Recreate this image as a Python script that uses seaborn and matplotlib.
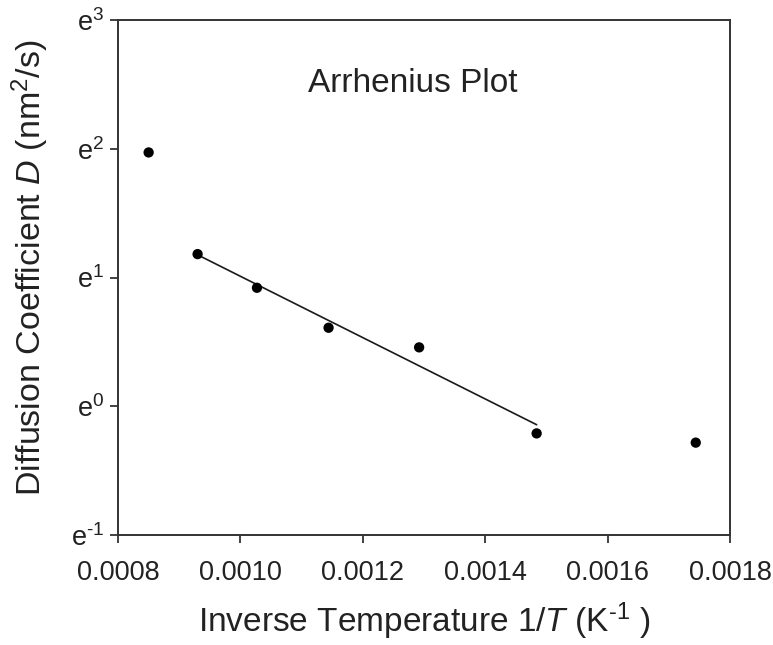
import numpy as np
import pandas as pd
import matplotlib
matplotlib.use("Agg")
import matplotlib.pyplot as plt
from matplotlib.ticker import FixedLocator, FuncFormatter
import seaborn as sns

# Inverse temperature (1/K) and diffusion coefficient (nm^2/s)
inv_temp = [0.00085, 0.00093, 0.001027, 0.001144, 0.001292, 0.001484, 0.001744]
diff_coef = [7.18, 3.26, 2.51, 1.84, 1.58, 0.81, 0.754]
# indices of the points used for the Arrhenius fit
fit_idx = [1, 2, 3, 4, 5]

x_ticks = [0.0008, 0.0010, 0.0012, 0.0014, 0.0016, 0.0018]
y_exponents = [-1, 0, 1, 2, 3]

df = pd.DataFrame({"inv_T": inv_temp, "D": diff_coef})

sns.set_style("ticks")
plt.rcParams["font.family"] = ["Liberation Sans", "DejaVu Sans"]
plt.rcParams["mathtext.fontset"] = "custom"
plt.rcParams["mathtext.rm"] = "Liberation Sans"
plt.rcParams["mathtext.it"] = "Liberation Sans:italic"
plt.rcParams["mathtext.default"] = "regular"

fig = plt.figure(figsize=(7.73, 6.45), dpi=100)
ax = fig.add_axes([0.1527, 0.1705, 0.9444 - 0.1527, 0.969 - 0.1705])

ax.set_yscale("log", base=np.e)

# linear fit of ln(D) against 1/T
fx = np.array([inv_temp[i] for i in fit_idx])
fy = np.log([diff_coef[i] for i in fit_idx])
slope, intercept = np.polyfit(fx, fy, 1)
line_x = np.array([fx.min(), fx.max()])
line_df = pd.DataFrame({"inv_T": line_x, "D": np.exp(slope * line_x + intercept)})
sns.lineplot(data=line_df, x="inv_T", y="D", ax=ax, color="#1a1a1a", linewidth=1.2)

sns.scatterplot(data=df, x="inv_T", y="D", ax=ax, color="black", s=55,
                edgecolor="none", zorder=3)


def exp_label(v, pos):
    k = int(round(np.log(v)))
    exponent = r"\text{-}%d" % abs(k) if k < 0 else "%d" % k
    return r"$\mathregular{e^{%s}}$" % exponent


ax.set_xlim(0.0008, 0.0018)
ax.set_ylim(np.exp(-1), np.exp(3))
ax.xaxis.set_major_locator(FixedLocator(x_ticks))
ax.xaxis.set_major_formatter(FuncFormatter(lambda v, p: f"{v:.4f}"))
ax.yaxis.set_major_locator(FixedLocator([np.exp(k) for k in y_exponents]))
ax.yaxis.set_major_formatter(FuncFormatter(exp_label))
ax.yaxis.set_minor_locator(FixedLocator([]))
ax.xaxis.set_minor_locator(FixedLocator([]))

for sp in ax.spines.values():
    sp.set_visible(True)
    sp.set_linewidth(1.4)
    sp.set_color("#333333")
ax.tick_params(axis="both", direction="out", length=6, width=1.3,
               color="#333333", labelsize=19.5, labelcolor="#222222")
ax.tick_params(axis="x", pad=12)
ax.tick_params(axis="y", pad=4)

ax.set_xlabel(r"Inverse Temperature 1/$\mathit{T}$ (K$^{\text{-}1}$ )", fontsize=24,
              color="#222222")
ax.set_ylabel(r"Diffusion Coefficient $\mathit{D}$ (nm$^{2}$/s)", fontsize=24.5,
              color="#222222")
ax.xaxis.set_label_coords(0.5, -0.128)
ax.yaxis.set_label_coords(-0.11, 0.518)

ax.text(0.482, 0.877, "Arrhenius Plot", transform=ax.transAxes, fontsize=24,
        ha="center", va="center", color="#222222")

fig.savefig("out.png", dpi=100)
